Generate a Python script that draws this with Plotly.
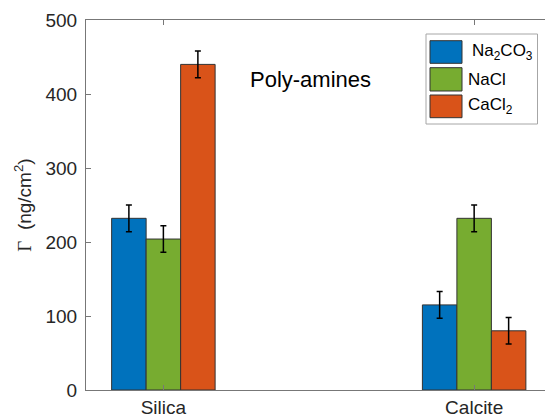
import plotly.graph_objects as go

categories = ["Silica", "Calcite"]
series_names = ["Na<sub>2</sub>CO<sub>3</sub>", "NaCl", "CaCl<sub>2</sub>"]
na2co3 = [232, 115]
nacl = [204, 232]
cacl2 = [440, 80]
na2co3_err = [18, 18]
nacl_err = [18, 18]
cacl2_err = [18, 18]
colors = ["#0072BD", "#77AC30", "#D95319"]
y_ticks = [0, 100, 200, 300, 400, 500]

FONT = "Liberation Sans, Arial, sans-serif"
xpos = [i + 1 for i in range(len(categories))]

fig = go.Figure()
for name, vals, errs, col in zip(series_names, [na2co3, nacl, cacl2],
                                 [na2co3_err, nacl_err, cacl2_err], colors):
    fig.add_trace(go.Bar(
        x=xpos, y=vals, name=name,
        marker=dict(color=col, line=dict(color="#333333", width=1)),
        error_y=dict(type="data", array=errs, color="black", thickness=1.5, width=3),
        showlegend=False,
    ))

fig.update_layout(
    width=545, height=418,
    margin=dict(l=86, r=0, t=20, b=28),
    paper_bgcolor="white", plot_bgcolor="white",
    barmode="group", bargap=0.667, bargroupgap=0,
    font=dict(family=FONT, size=19, color="#262626"),
    xaxis=dict(range=[0.751, 2.228], tickvals=xpos, ticktext=categories,
               showgrid=False, zeroline=False, showline=True, linecolor="#777777",
               linewidth=1, mirror="ticks", ticks="inside", ticklen=5,
               tickcolor="#777777", tickfont=dict(size=19, color="#262626")),
    yaxis=dict(range=[0, 500], tickvals=y_ticks, showgrid=False, zeroline=False,
               showline=True, linecolor="#777777", linewidth=1, ticks="inside",
               ticklen=5, tickcolor="#777777", tickfont=dict(size=19, color="#262626"),
               ticklabelstandoff=4,
               title=dict(text="<span style=\"font-family:'Liberation Serif', 'Times New Roman', serif\">Γ</span>  (ng/cm<sup>2</sup>)",
                          font=dict(size=19, color="#262626"), standoff=8)),
)

fig.add_annotation(x=310, y=80, xref="x domain", yref="y domain", text="Poly-amines",
                   showarrow=False, font=dict(size=22, color="black"))

# Annotation above uses pixel -> domain conversion; replace with paper coords
fig.layout.annotations = []
W, H = 545, 418
L, T, B = 86, 20, 28
pw, ph = W - L, H - T - B

def px(x):
    return (x - L) / pw

def py(y):
    return 1 - (y - T) / ph

fig.add_annotation(x=px(310), y=py(79), xref="paper", yref="paper", text="Poly-amines",
                   showarrow=False, font=dict(size=22, color="black"),
                   xanchor="center", yanchor="middle")

# Legend box
fig.add_shape(type="rect", xref="paper", yref="paper",
              x0=px(426), x1=px(537.5), y0=py(124), y1=py(34),
              line=dict(color="#a6a6a6", width=1), fillcolor="white")
rows = [(40.7, 63.3), (67.7, 91), (95, 117.7)]
text_x = [470, 465.5, 465.5]
for (y0, y1), col, name, tx in zip(rows, colors, series_names, text_x):
    fig.add_shape(type="rect", xref="paper", yref="paper",
                  x0=px(430), x1=px(462), y0=py(y1), y1=py(y0),
                  line=dict(color="#333333", width=1), fillcolor=col)
    fig.add_annotation(x=px(tx), y=py((y0 + y1) / 2), xref="paper", yref="paper",
                       text=name, showarrow=False, xanchor="left", yanchor="middle",
                       font=dict(size=17, color="black"))

fig.write_html("out.html")
